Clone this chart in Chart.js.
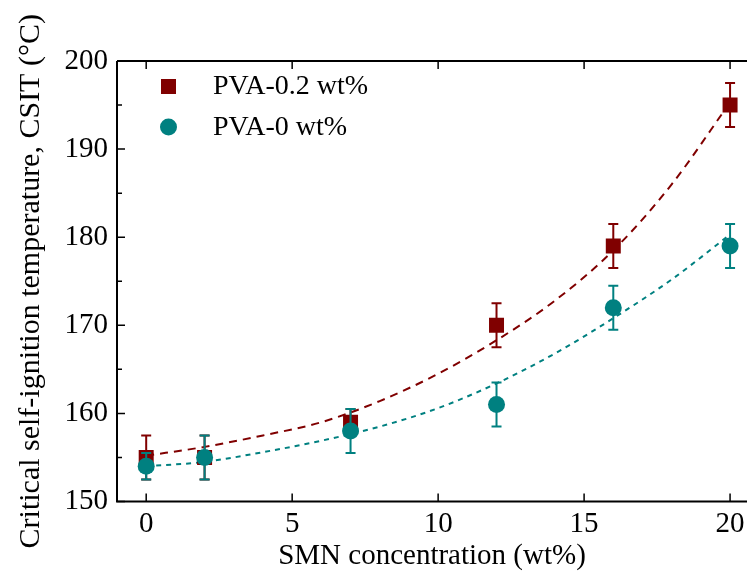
<!DOCTYPE html>
<html><head><meta charset="utf-8">
<script src="https://cdn.jsdelivr.net/npm/chart.js@4.4.0/dist/chart.umd.min.js"></script>
<style>html,body{margin:0;padding:0;background:#fff;overflow:hidden}#wrap{width:747px;height:575px}</style>
</head><body><div id="wrap"><canvas id="c" width="747" height="575"></canvas></div>
<script>
const seriesNames = ["PVA-0.2 wt%", "PVA-0 wt%"];
const xValues = [0, 2, 7, 12, 16, 20];
const pva02 = [155, 155, 159, 170, 179, 195];
const pva02Err = [2.5, 2.5, 1.5, 2.5, 2.5, 2.5];
const pva0 = [154, 155, 158, 161, 172, 179];
const pva0Err = [1.5, 2.5, 2.5, 2.5, 2.5, 2.5];
const fitX = [0, 2, 4, 6, 8, 10, 12, 14, 16, 18, 20];
const fit02 = [155.2, 156.2, 157.5, 159.0, 161.4, 164.5, 168.3, 172.8, 178.5, 186.0, 195.3];
const fit0 = [154.0, 154.5, 155.6, 156.9, 158.5, 160.6, 163.4, 166.8, 170.8, 175.2, 180.3];
const xTicks = [0, 5, 10, 15, 20];
const yTicks = [150, 160, 170, 180, 190, 200];
const yMinor = [155, 165, 175, 185, 195];

const RED = '#800000', TEAL = '#008080';
const FONT = 'Liberation Serif, "Times New Roman", serif';

const pts = (xs, ys) => xs.map((x, i) => ({x, y: ys[i]}));

const errPlugin = {
  id: 'err',
  afterDatasetDraw(chart, args) {
    const ds = chart.data.datasets[args.index];
    if (!ds.errors) return;
    const {ctx, scales: {x, y}} = chart;
    ctx.save();
    ctx.strokeStyle = ds.borderColor; ctx.lineWidth = 2;
    ds.data.forEach((p, i) => {
      const px = x.getPixelForValue(p.x);
      const top = y.getPixelForValue(p.y + ds.errors[i]);
      const bot = y.getPixelForValue(p.y - ds.errors[i]);
      ctx.beginPath();
      ctx.moveTo(px, top); ctx.lineTo(px, bot);
      ctx.moveTo(px - 5, top); ctx.lineTo(px + 5, top);
      ctx.moveTo(px - 5, bot); ctx.lineTo(px + 5, bot);
      ctx.stroke();
    });
    ctx.restore();
  }
};

const framePlugin = {
  id: 'frame',
  afterDraw(chart) {
    const {ctx, chartArea: a, scales: {x, y}} = chart;
    ctx.save();
    ctx.strokeStyle = '#000'; ctx.lineWidth = 2;
    ctx.beginPath();
    ctx.moveTo(a.left, a.top); ctx.lineTo(a.left, a.bottom); ctx.lineTo(a.right + 5, a.bottom);
    ctx.moveTo(a.left, a.top); ctx.lineTo(a.right + 5, a.top);
    ctx.stroke();
    ctx.lineWidth = 1.5;
    ctx.beginPath();
    xTicks.forEach(v => {
      const px = x.getPixelForValue(v);
      ctx.moveTo(px, a.bottom); ctx.lineTo(px, a.bottom - 8);
      ctx.moveTo(px, a.top); ctx.lineTo(px, a.top + 8);
    });
    yTicks.forEach(v => {
      const py = y.getPixelForValue(v);
      ctx.moveTo(a.left, py); ctx.lineTo(a.left + 8, py);
    });
    yMinor.forEach(v => {
      const py = y.getPixelForValue(v);
      ctx.moveTo(a.left, py); ctx.lineTo(a.left + 5, py);
    });
    ctx.stroke();
    // legend
    ctx.font = '28px ' + FONT;
    ctx.textBaseline = 'middle'; ctx.textAlign = 'left';
    ctx.fillStyle = RED;
    ctx.fillRect(161, 79, 15, 15);
    ctx.fillStyle = TEAL;
    ctx.beginPath(); ctx.arc(168.5, 127, 8.5, 0, Math.PI * 2); ctx.fill();
    ctx.fillStyle = '#000';
    ctx.fillText(seriesNames[0], 213, 87);
    ctx.fillText(seriesNames[1], 213, 128);
    ctx.restore();
  }
};

new Chart(document.getElementById('c'), {
  type: 'scatter',
  data: {
    datasets: [
      {label: 'fit02', type: 'line', data: pts(fitX, fit02), borderColor: RED, borderWidth: 2, borderDash: [8, 6], pointRadius: 0, cubicInterpolationMode: 'monotone', fill: false, order: 4},
      {label: 'fit0', type: 'line', data: pts(fitX, fit0), borderColor: TEAL, borderWidth: 2, borderDash: [5, 5], pointRadius: 0, cubicInterpolationMode: 'monotone', fill: false, order: 3},
      {label: seriesNames[0], data: pts(xValues, pva02), errors: pva02Err, borderColor: RED, backgroundColor: RED, pointStyle: 'rect', pointRadius: 10.6, pointBorderWidth: 0, order: 2},
      {label: seriesNames[1], data: pts(xValues, pva0), errors: pva0Err, borderColor: TEAL, backgroundColor: TEAL, pointStyle: 'circle', pointRadius: 8.5, pointBorderWidth: 0, order: 1}
    ]
  },
  options: {
    responsive: false, animation: false, devicePixelRatio: 1,
    layout: {padding: {top: 61, right: 0, left: 0, bottom: 0}, autoPadding: false},
    plugins: {legend: {display: false}, tooltip: {enabled: false}},
    scales: {
      x: {
        type: 'linear', min: -1.0, max: 20.58,
        afterFit: s => { s.height = 73.5; s.paddingLeft = 0; s.paddingRight = 0; },
        afterBuildTicks: s => { s.ticks = xTicks.map(v => ({value: v})); },
        grid: {display: false, drawTicks: false},
        border: {display: false},
        ticks: {padding: 5, color: '#000', font: {family: FONT, size: 29}},
        title: {display: true, text: 'SMN concentration (wt%)', color: '#000', font: {family: FONT, size: 29}, padding: {top: 0, bottom: 1}}
      },
      y: {
        type: 'linear', min: 150, max: 200,
        afterFit: s => { s.width = 117; s.paddingTop = 0; s.paddingBottom = 0; },
        afterBuildTicks: s => { s.ticks = yTicks.map(v => ({value: v})); },
        grid: {display: false, drawTicks: false},
        border: {display: false},
        ticks: {padding: 9, color: '#000', font: {family: FONT, size: 29}},
        title: {display: true, text: 'Critical self-ignition temperature, CSIT (°C)', color: '#000', font: {family: FONT, size: 30}, padding: {top: 13, bottom: 0}}
      }
    }
  },
  plugins: [errPlugin, framePlugin]
});
</script></body></html>
